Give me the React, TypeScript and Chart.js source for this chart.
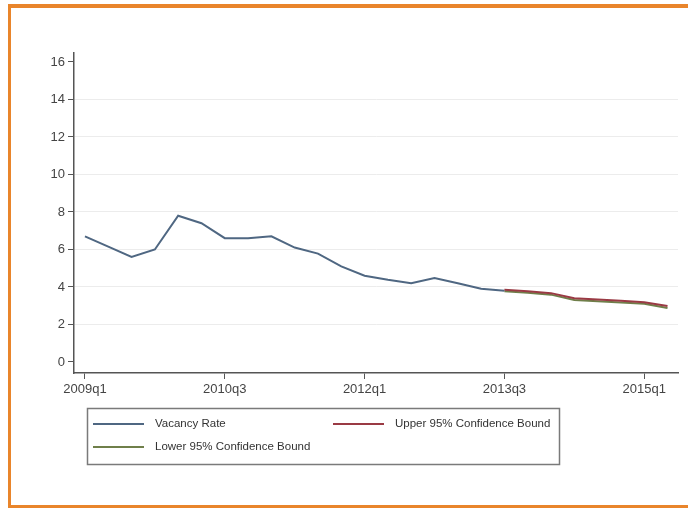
import React, { useEffect, useRef } from "react";
import { Chart, registerables } from "chart.js";

Chart.register(...registerables);

const quarters: string[] = [
  "2009q1", "2009q2", "2009q3", "2009q4",
  "2010q1", "2010q2", "2010q3", "2010q4",
  "2011q1", "2011q2", "2011q3", "2011q4",
  "2012q1", "2012q2", "2012q3", "2012q4",
  "2013q1", "2013q2", "2013q3", "2013q4",
  "2014q1", "2014q2", "2014q3", "2014q4",
  "2015q1", "2015q2",
];

const tickLabels: string[] = ["2009q1", "2010q3", "2012q1", "2013q3", "2015q1"];
const yTicks: number[] = [0, 2, 4, 6, 8, 10, 12, 14, 16];

// 2009q1 .. 2013q3
const vacancyRate: number[] = [
  6.7, 6.15, 5.6, 6.0, 7.8, 7.4, 6.6, 6.6, 6.7, 6.1,
  5.78, 5.1, 4.6, 4.38, 4.2, 4.48, 4.2, 3.9, 3.8,
];

// 2013q3 .. 2015q2
const forecastStart = "2013q3";
const upperBound: number[] = [3.85, 3.77, 3.67, 3.4, 3.33, 3.26, 3.18, 2.98];
const lowerBound: number[] = [3.77, 3.69, 3.59, 3.3, 3.24, 3.17, 3.1, 2.88];

const FONT = "'Liberation Sans', Arial, sans-serif";

const legendPlugin = {
  id: "stataLegend",
  afterDraw(chart: any) {
    const ctx = chart.ctx as CanvasRenderingContext2D;
    const ds = chart.data.datasets;
    ctx.save();
    ctx.strokeStyle = "#7a7a7a";
    ctx.lineWidth = 1.5;
    ctx.strokeRect(87.5, 408.5, 472, 56);
    const slots = [
      { x: 93, y: 424 },
      { x: 333, y: 424 },
      { x: 93, y: 447 },
    ];
    const order = [0, 1, 2];
    ctx.font = `11.5px ${FONT}`;
    ctx.textBaseline = "middle";
    order.forEach((di, i) => {
      const s = slots[i];
      const d = ds[di];
      ctx.strokeStyle = d.borderColor;
      ctx.lineWidth = 2;
      ctx.beginPath();
      ctx.moveTo(s.x, s.y);
      ctx.lineTo(s.x + 51, s.y);
      ctx.stroke();
      ctx.fillStyle = "#333";
      ctx.fillText(d.label, s.x + 62, s.y);
    });
    ctx.restore();
  },
};

export default function App() {
  const ref = useRef<HTMLCanvasElement | null>(null);

  useEffect(() => {
    if (!ref.current) return;
    const fi = quarters.indexOf(forecastStart);
    const vacPts = vacancyRate.map((v, i) => ({ x: i, y: v }));
    const upPts = upperBound.map((v, i) => ({ x: fi + i, y: v }));
    const loPts = lowerBound.map((v, i) => ({ x: fi + i, y: v }));
    const tickIdx = tickLabels.map((t) => quarters.indexOf(t));

    const chart = new Chart(ref.current, {
      type: "line",
      data: {
        datasets: [
          {
            label: "Vacancy Rate",
            data: vacPts,
            borderColor: "#4f6782",
            borderWidth: 2,
            pointRadius: 0,
            tension: 0,
          },
          {
            label: "Upper 95% Confidence Bound",
            data: upPts,
            borderColor: "#9a3a44",
            borderWidth: 2,
            pointRadius: 0,
            tension: 0,
          },
          {
            label: "Lower 95% Confidence Bound",
            data: loPts,
            borderColor: "#6f7f4a",
            borderWidth: 2,
            pointRadius: 0,
            tension: 0,
          },
        ],
      },
      options: {
        responsive: false,
        animation: false,
        layout: { padding: { left: 0, top: 53, right: 10, bottom: 105 } },
        plugins: {
          legend: { display: false },
          tooltip: { enabled: false },
        },
        scales: {
          x: {
            type: "linear",
            min: -0.47,
            max: 25.45,
            afterBuildTicks: (scale: any) => {
              scale.ticks = tickIdx.map((v) => ({ value: v }));
            },
            afterFit: (scale: any) => {
              scale.height = 30;
            },
            ticks: {
              autoSkip: false,
              maxRotation: 0,
              padding: 3,
              color: "#444",
              font: { family: FONT, size: 13 },
              callback: (v: any) => quarters[v as number],
            },
            grid: {
              drawOnChartArea: false,
              drawTicks: true,
              tickLength: 6,
              tickColor: "#555",
            },
            border: { display: true, color: "#555", width: 1.5 },
          },
          y: {
            type: "linear",
            min: -0.59,
            max: 16.48,
            afterBuildTicks: (scale: any) => {
              scale.ticks = yTicks.map((v) => ({ value: v }));
            },
            afterFit: (scale: any) => {
              scale.width = 74;
            },
            ticks: {
              padding: 3,
              color: "#444",
              font: { family: FONT, size: 13 },
            },
            grid: {
              drawTicks: true,
              tickLength: 6,
              tickColor: "#555",
              lineWidth: 1,
              color: (c: any) =>
                c.tick && (c.tick.value === 0 || c.tick.value === 16)
                  ? "rgba(0,0,0,0)"
                  : "#ececec",
            },
            border: { display: true, color: "#555", width: 1.5 },
          },
        },
      },
      plugins: [legendPlugin],
    });
    return () => chart.destroy();
  }, []);

  return (
    <div
      style={{
        position: "fixed",
        left: 0,
        top: 0,
        width: 688,
        height: 508,
        overflow: "hidden",
        background: "#fff",
      }}
    >
      <div
        style={{
          position: "absolute",
          left: 8,
          top: 4,
          width: 720,
          height: 504,
          boxSizing: "border-box",
          borderTop: "4px solid #e9852b",
          borderLeft: "3px solid #e9852b",
          borderBottom: "3px solid #e9852b",
        }}
      />
      <canvas
        ref={ref}
        width={688}
        height={508}
        style={{ position: "absolute", left: 0, top: 0, width: 688, height: 508 }}
      />
    </div>
  );
}
